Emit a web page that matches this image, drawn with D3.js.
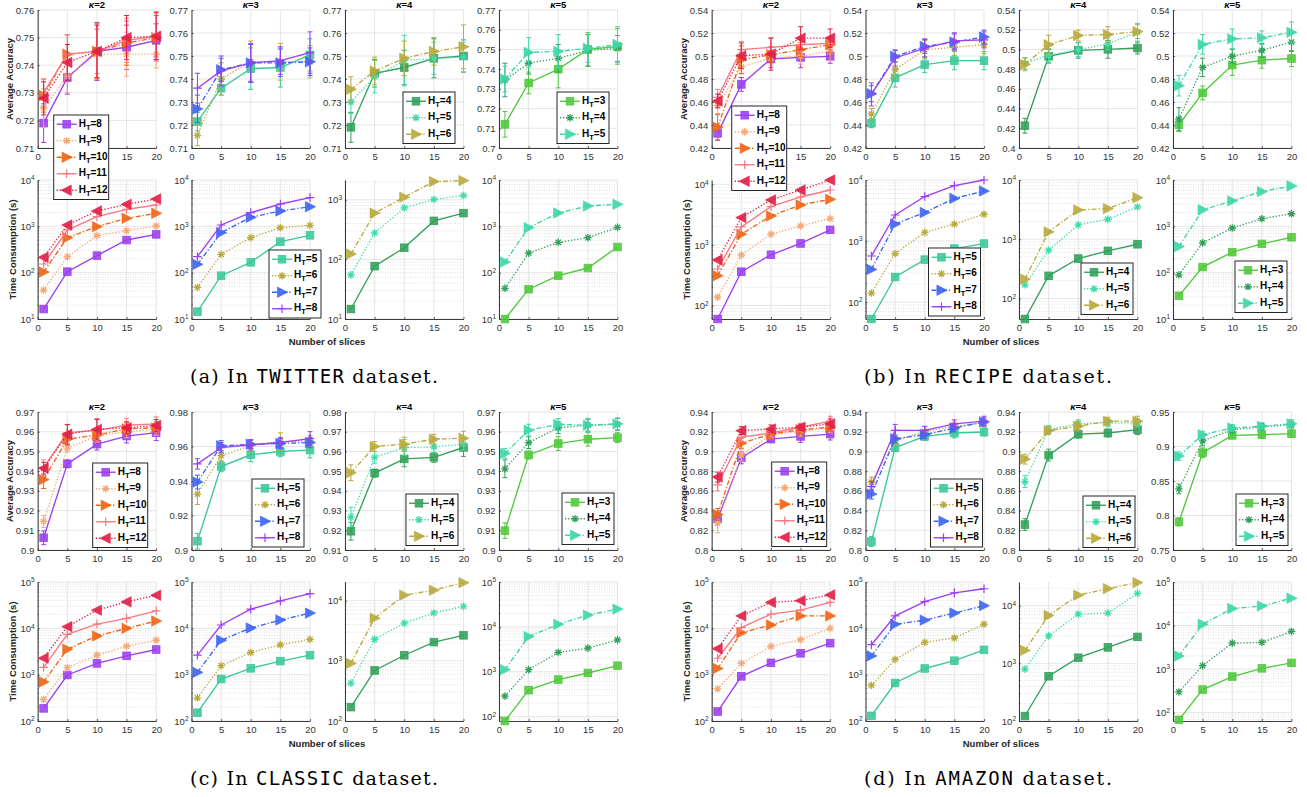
<!DOCTYPE html>
<html><head><meta charset="utf-8">
<script src="https://cdn.jsdelivr.net/npm/d3@7"></script>
<style>body{margin:0;background:#fff;} svg{display:block;}</style>
</head><body>
<svg id="chart" width="1307" height="797"></svg>
<script>
// ---------------- DATA ----------------
const xSlices = [1, 5, 10, 15, 20];
const xTicks = [0, 5, 10, 15, 20];
const kappaValues = [2, 3, 4, 5];
const htValues = [[8, 9, 10, 11, 12], [5, 6, 7, 8], [4, 5, 6], [3, 4, 5]];
const datasetNames = ["TWITTER", "RECIPE", "CLASSIC", "AMAZON"];
const panelLetters = ["a", "b", "c", "d"];

// TWITTER
const twitterAccRange = [[0.71, 0.76, 0.01], [0.71, 0.77, 0.01], [0.71, 0.77, 0.01], [0.70, 0.77, 0.01]];
const twitterAcc = [
  [[0.719,0.7355,0.745,0.7465,0.749],[0.7245,0.736,0.744,0.744,0.744],[0.729,0.744,0.745,0.748,0.750],[0.730,0.744,0.745,0.749,0.7505],[0.728,0.741,0.745,0.750,0.7505]],
  [[0.7215,0.736,0.7445,0.745,0.7505],[0.7155,0.740,0.7475,0.7475,0.7475],[0.727,0.744,0.747,0.747,0.7475],[0.736,0.7435,0.747,0.748,0.7515]],
  [[0.719,0.7425,0.745,0.749,0.750],[0.730,0.741,0.748,0.749,0.7495],[0.7355,0.7435,0.749,0.752,0.754]],
  [[0.712,0.733,0.740,0.750,0.7515],[0.7345,0.743,0.7455,0.7495,0.7505],[0.735,0.7485,0.749,0.7505,0.7525]]
];
const twitterErr = [
  [[0.007,0.006,0.0105,0.008,0.006],[0.007,0.006,0.009,0.008,0.005],[0.006,0.007,0.01,0.008,0.008],[0.005,0.007,0.008,0.008,0.009],[0.006,0.0065,0.0095,0.008,0.0085]],
  [[0.004,0.003,0.009,0.0085,0.007],[0.0045,0.007,0.009,0.008,0.007],[0.006,0.005,0.008,0.006,0.006],[0.0065,0.0065,0.0085,0.006,0.009]],
  [[0.0065,0.006,0.0075,0.0085,0.007],[0.005,0.007,0.011,0.007,0.0065],[0.0055,0.006,0.0075,0.006,0.0095]],
  [[0.0065,0.0055,0.0095,0.0085,0.009],[0.0085,0.0055,0.007,0.008,0.0065],[0.0065,0.0075,0.0085,0.007,0.009]]
];
const twitterTimeRange = [[10, 1e4], [10, 1e4], [10, 2150], [10, 1e4]];
const twitterTime = [
  [[16.4,105,233,507,671],[42,221,630,806,1016],[103,569,984,1489,1910],[154,833,1617,2328,2884],[214,1069,2143,2985,3890]],
  [[14.4,86,167,467,640],[48,249,569,935,1051],[151,730,1563,2143,2655],[221,1069,1972,3034,4159]],
  [[14.7,77,157,443,598],[55,279,731,1013,1181],[123,598,1109,2024,2100]],
  [[10,44,86,126,358],[46,263,452,569,950],[170,935,1940,2748,2985]]
];

// RECIPE
const recipeAccRange = [[0.42, 0.54, 0.02], [0.42, 0.54, 0.02], [0.40, 0.54, 0.02], [0.42, 0.54, 0.02]];
const recipeAcc = [
  [[0.4327,0.4753,0.4974,0.4988,0.4997],[0.457,0.4905,0.498,0.500,0.504],[0.438,0.4968,0.5011,0.5055,0.5098],[0.464,0.5055,0.5075,0.5098,0.511],[0.4609,0.5003,0.5017,0.5155,0.5155]],
  [[0.4416,0.481,0.4925,0.496,0.496],[0.4494,0.4882,0.5055,0.5075,0.510],[0.4672,0.4997,0.5083,0.5121,0.5165],[0.4666,0.4983,0.5069,0.5132,0.514]],
  [[0.4226,0.4931,0.4991,0.5001,0.5014],[0.4858,0.4941,0.4998,0.5057,0.5174],[0.4848,0.5048,0.5141,0.5151,0.5181]],
  [[0.4402,0.4679,0.4921,0.4964,0.4978],[0.4451,0.4901,0.4998,0.5049,0.5121],[0.4742,0.5101,0.5149,0.5158,0.5206]]
];
const recipeErr = [
  [[0.006,0.006,0.0075,0.009,0.006],[0.007,0.006,0.006,0.007,0.008],[0.011,0.012,0.007,0.006,0.007],[0.007,0.007,0.008,0.006,0.006],[0.006,0.011,0.014,0.01,0.008]],
  [[0.004,0.008,0.007,0.008,0.008],[0.005,0.007,0.008,0.007,0.008],[0.007,0.005,0.006,0.007,0.006],[0.01,0.007,0.008,0.007,0.007]],
  [[0.0075,0.007,0.008,0.009,0.006],[0.006,0.007,0.007,0.006,0.009],[0.0065,0.0095,0.0055,0.008,0.007]],
  [[0.006,0.006,0.009,0.007,0.007],[0.01,0.008,0.006,0.006,0.008],[0.009,0.0085,0.0085,0.006,0.009]]
];
const recipeTimeRange = [[60, 11800], [53, 1e4], [45, 1e4], [10, 1e4]];
const recipeTime = [
  [[60,362,689,1059,1775],[137,680,1507,2065,2728],[311,1507,3013,4571,5662],[401,1990,4295,6190,8070],[564,2830,5520,8070,11780]],
  [[53,258,497,754,910],[141,623,1387,1900,2750],[344,1900,2940,5000,6600],[570,2672,5360,8080,10000]],
  [[45,241,472,636,823],[170,653,1745,2174,3509],[212,1330,3120,3290,5030]],
  [[31.6,132,277,418,581],[90,440,920,1460,1868],[366,2275,3550,5620,7430]]
];

// CLASSIC
const classicAccRange = [[0.90, 0.97, 0.01], [0.90, 0.98, 0.02], [0.91, 0.98, 0.01], [0.90, 0.97, 0.01]];
const classicAcc = [
  [[0.9062,0.9437,0.9537,0.9578,0.9595],[0.9145,0.9517,0.9578,0.960,0.9612],[0.9357,0.9562,0.9583,0.9615,0.962],[0.9417,0.9595,0.9607,0.9633,0.964],[0.9415,0.9587,0.9612,0.962,0.9632]],
  [[0.9051,0.9484,0.9552,0.9571,0.9579],[0.9324,0.9547,0.9604,0.9629,0.9632],[0.9394,0.9604,0.9613,0.9617,0.9623],[0.9499,0.9594,0.961,0.9623,0.9646]],
  [[0.9195,0.949,0.9562,0.957,0.962],[0.9267,0.957,0.962,0.9623,0.9637],[0.9492,0.9625,0.9637,0.9662,0.9667]],
  [[0.9098,0.9482,0.954,0.9562,0.957],[0.9412,0.9545,0.962,0.9633,0.9637],[0.949,0.9608,0.9637,0.9633,0.964]]
];
const classicErr = [
  [[0.0035,0.002,0.003,0.0035,0.004],[0.003,0.002,0.003,0.003,0.003],[0.0045,0.003,0.003,0.003,0.003],[0.004,0.004,0.006,0.0035,0.0035],[0.003,0.005,0.005,0.003,0.003]],
  [[0.0045,0.003,0.004,0.003,0.0045],[0.006,0.003,0.003,0.005,0.003],[0.004,0.003,0.0025,0.003,0.003],[0.003,0.003,0.003,0.003,0.004]],
  [[0.0045,0.002,0.004,0.0025,0.0045],[0.005,0.003,0.004,0.003,0.003],[0.004,0.0025,0.0035,0.0025,0.0035]],
  [[0.004,0.002,0.0035,0.0035,0.0025],[0.0045,0.003,0.003,0.003,0.003],[0.0025,0.003,0.003,0.0035,0.003]]
];
const classicTimeRange = [[100, 1e5], [100, 1e5], [100, 20500], [80, 1e5]];
const classicTime = [
  [[187,984,1750,2553,3490],[291,1413,2637,4110,5530],[696,3540,6850,10000,14360],[1435,7430,12380,16370,23900],[2275,10860,24700,37250,51800]],
  [[151,806,1368,1963,2637],[316,1560,3010,4395,5800],[1122,5530,10170,15100,21300],[2637,11800,25950,39170,56200]],
  [[170,693,1240,2052,2660],[427,2287,4240,6270,8070],[910,5130,12400,14970,20000]],
  [[80,390,670,940,1365],[286,1114,2690,3360,5130],[1114,6080,11400,18300,24900]]
];

// AMAZON
const amazonAccRange = [[0.80, 0.94, 0.02], [0.80, 0.94, 0.02], [0.80, 0.94, 0.02], [0.75, 0.95, 0.05]];
const amazonAcc = [
  [[0.8316,0.8935,0.9125,0.9152,0.9176],[0.8275,0.8963,0.917,0.9204,0.9238],[0.8361,0.9083,0.9176,0.9221,0.9245],[0.866,0.9145,0.9187,0.9245,0.9307],[0.874,0.9211,0.9228,0.9245,0.928]],
  [[0.8086,0.9039,0.9152,0.9187,0.9197],[0.8688,0.9108,0.9204,0.9256,0.929],[0.8567,0.9128,0.917,0.9238,0.93],[0.8646,0.9214,0.9214,0.928,0.9307]],
  [[0.8258,0.8963,0.9176,0.9187,0.9221],[0.8694,0.9221,0.928,0.929,0.929],[0.8922,0.9211,0.9256,0.9307,0.9307]],
  [[0.7908,0.891,0.9161,0.9171,0.9186],[0.8385,0.9082,0.9244,0.9284,0.9318],[0.8861,0.9171,0.9269,0.9294,0.9328]]
];
const amazonErr = [
  [[0.006,0.006,0.003,0.006,0.006],[0.01,0.006,0.004,0.005,0.005],[0.006,0.005,0.005,0.004,0.004],[0.006,0.004,0.004,0.004,0.005],[0.005,0.004,0.004,0.003,0.005]],
  [[0.005,0.004,0.004,0.005,0.004],[0.005,0.004,0.005,0.004,0.004],[0.005,0.004,0.004,0.004,0.004],[0.005,0.006,0.004,0.004,0.005]],
  [[0.006,0.006,0.004,0.004,0.005],[0.006,0.004,0.004,0.004,0.004],[0.005,0.004,0.005,0.004,0.005]],
  [[0.006,0.007,0.004,0.004,0.005],[0.007,0.007,0.005,0.005,0.005],[0.006,0.005,0.005,0.005,0.006]]
];
const amazonTimeRange = [[100, 1e5], [100, 1e5], [100, 25700], [64, 1e5]];
const amazonTime = [
  [[160,918,1800,2890,4790],[495,1750,4070,5700,10000],[1360,8030,11830,18550,18550],[2260,10350,20200,24700,36400],[3620,18550,36400,39600,52700]],
  [[129,661,1360,2000,3430],[586,2130,5000,6190,12250],[2540,12250,15000,21400,30900],[4430,18550,37600,58300,71500]],
  [[122,597,1250,1890,2870],[795,2990,7130,7430,16300],[1675,6750,15200,19700,25100]],
  [[68,338,672,1037,1385],[298,1198,3944,4090,7300],[1995,10730,24650,28000,42400]]
];

// ---------------- STYLES / LAYOUT ----------------
const seriesStyles = [
  [{c:"#9b3ff0",d:"solid",m:"square"},{c:"#f5a878",d:"dot",m:"asterisk"},{c:"#f06414",d:"dashdot",m:"triR"},{c:"#fa7882",d:"solid",m:"plus"},{c:"#e01e46",d:"dot",m:"triL"}],
  [{c:"#3cc896",d:"solid",m:"square"},{c:"#b9aa3c",d:"dot",m:"asterisk"},{c:"#3c64f5",d:"dashdot",m:"triR"},{c:"#9b3ff0",d:"solid",m:"plus"}],
  [{c:"#32a05a",d:"solid",m:"square"},{c:"#40dcaa",d:"dot",m:"asterisk"},{c:"#b9aa3c",d:"dashdot",m:"triR"}],
  [{c:"#50c83c",d:"solid",m:"square"},{c:"#32a05a",d:"dot",m:"asterisk"},{c:"#3cd6aa",d:"dashdot",m:"triR"}]
];
const dashes = {solid: null, dot: "1.3,1.8", dashdot: "5,2,1.3,2"};
const quadOrigins = [[0, 0], [674, 0], [0, 402], [674, 402]];
const colLeft = [37.7, 191.5, 345, 499];
const plotW = 118.5;
const accTop = 10, accH = 138;
const timeTop = 180, timeH = 139;
// legend placement: [row(0 acc / 1 time), dx from axes left, dy from axes top]
const legendPos = [
  [[0,16,105],[1,77.5,70],[0,58,82],[0,58,82]],
  [[0,20,96],[1,63,68],[1,62,83],[1,62,81]],
  [[0,55,51],[0,60.5,67],[0,61,82],[0,63,81]],
  [[0,60,50],[0,65,67],[0,64,84],[0,63,82]]
];

const accData = [twitterAcc, recipeAcc, classicAcc, amazonAcc];
const errData = [twitterErr, recipeErr, classicErr, amazonErr];
const accRanges = [twitterAccRange, recipeAccRange, classicAccRange, amazonAccRange];
const timeData = [twitterTime, recipeTime, classicTime, amazonTime];
const timeRanges = [twitterTimeRange, recipeTimeRange, classicTimeRange, amazonTimeRange];

const FONT = "'Liberation Sans', Arial, Helvetica, sans-serif";
const AXIS_COLOR = "#262626";
const GRID = "#e2e2e2";
const MINOR_GRID = "#d2d2d2";
const LW = 1.35;

const svg = d3.select("#chart").attr("font-family", FONT);

function marker(g, type, color, x, y) {
  if (type === "square") {
    g.append("rect").attr("x", x - 3.8).attr("y", y - 3.8).attr("width", 7.6).attr("height", 7.6)
      .attr("fill", color).attr("fill-opacity", 0.88).attr("stroke", color).attr("stroke-width", 0.8);
  } else if (type === "triR" || type === "triL") {
    const s = type === "triR" ? 1 : -1;
    const p = d3.path();
    p.moveTo(x - s * 4.6, y - 5.2); p.lineTo(x + s * 5.6, y); p.lineTo(x - s * 4.6, y + 5.2); p.closePath();
    g.append("path").attr("d", p.toString()).attr("fill", color).attr("fill-opacity", 0.9)
      .attr("stroke", color).attr("stroke-width", 0.6);
  } else if (type === "plus") {
    const p = d3.path();
    p.moveTo(x - 4.3, y); p.lineTo(x + 4.3, y); p.moveTo(x, y - 4.3); p.lineTo(x, y + 4.3);
    g.append("path").attr("d", p.toString()).attr("stroke", color).attr("stroke-width", 1.2).attr("fill", "none");
  } else if (type === "asterisk") {
    const r = 3.8, q = r * 0.707;
    const p = d3.path();
    p.moveTo(x - r, y); p.lineTo(x + r, y); p.moveTo(x, y - r); p.lineTo(x, y + r);
    p.moveTo(x - q, y - q); p.lineTo(x + q, y + q); p.moveTo(x - q, y + q); p.lineTo(x + q, y - q);
    g.append("path").attr("d", p.toString()).attr("stroke", color).attr("stroke-width", 1.3).attr("fill", "none");
  }
}

function styleAxis(ax) {
  ax.select(".domain").attr("stroke", AXIS_COLOR).attr("stroke-width", 0.9);
  ax.selectAll(".tick line").attr("stroke", AXIS_COLOR).attr("stroke-width", 0.7);
  ax.selectAll(".tick text").attr("fill", "#333").attr("font-size", "9.5px").attr("font-family", FONT);
}

function drawXAxis(g, xs, bottom) {
  const ax = g.append("g").attr("transform", `translate(0,${bottom})`)
    .call(d3.axisBottom(xs).tickValues(xTicks).tickSize(-2).tickSizeOuter(0).tickPadding(5.5).tickFormat(d3.format("d")));
  styleAxis(ax);
}

function drawSeries(g, xs, ys, series, errs, styles) {
  series.forEach((vals, si) => {
    const st = styles[si];
    const pts = vals.map((v, i) => ({x: xSlices[i], y: v, e: errs ? errs[si][i] : 0}));
    const line = d3.line().x(d => xs(d.x)).y(d => ys(d.y));
    g.append("path").datum(pts).attr("d", line).attr("fill", "none").attr("stroke", st.c)
      .attr("stroke-width", LW).attr("stroke-dasharray", dashes[st.d]);
    if (errs) {
      pts.forEach(d => {
        const x = xs(d.x), y1 = ys(d.y - d.e), y2 = ys(d.y + d.e);
        const p = d3.path();
        p.moveTo(x, y1); p.lineTo(x, y2);
        p.moveTo(x - 2.5, y1); p.lineTo(x + 2.5, y1);
        p.moveTo(x - 2.5, y2); p.lineTo(x + 2.5, y2);
        g.append("path").attr("d", p.toString()).attr("stroke", st.c).attr("stroke-width", 1).attr("fill", "none");
      });
    }
    pts.forEach(d => marker(g, st.m, st.c, xs(d.x), ys(d.y)));
  });
}

function drawAcc(g, left, top, range, series, errs, styles) {
  const [lo, hi, step] = range;
  const xs = d3.scaleLinear().domain([0, 20]).range([left, left + plotW]);
  const ys = d3.scaleLinear().domain([lo, hi]).range([top + accH, top]);
  const n = Math.round((hi - lo) / step);
  const yt = d3.range(n + 1).map(i => +(lo + i * step).toFixed(3));
  const grid = g.append("g");
  grid.selectAll(null).data(xTicks).join("line")
    .attr("x1", d => xs(d)).attr("x2", d => xs(d)).attr("y1", top).attr("y2", top + accH)
    .attr("stroke", GRID).attr("stroke-width", 0.9);
  grid.selectAll(null).data(yt).join("line")
    .attr("x1", left).attr("x2", left + plotW).attr("y1", d => ys(d)).attr("y2", d => ys(d))
    .attr("stroke", GRID).attr("stroke-width", 0.9);
  const ay = g.append("g").attr("transform", `translate(${left},0)`)
    .call(d3.axisLeft(ys).tickValues(yt).tickSize(-2).tickSizeOuter(0).tickPadding(3.5).tickFormat(d => String(+d.toFixed(3))));
  styleAxis(ay);
  drawXAxis(g, xs, top + accH);
  drawSeries(g, xs, ys, series, errs, styles);
}

function drawTime(g, left, top, range, series, styles) {
  const [lo, hi] = range;
  const xs = d3.scaleLinear().domain([0, 20]).range([left, left + plotW]);
  const ys = d3.scaleLog().domain([lo, hi]).range([top + timeH, top]);
  const d0 = Math.floor(Math.log10(lo)), d1 = Math.ceil(Math.log10(hi));
  const majors = d3.range(d0, d1 + 1).map(e => Math.pow(10, e)).filter(v => v >= lo * 0.999 && v <= hi * 1.001);
  const minors = [];
  d3.range(d0, d1 + 1).forEach(e => { for (let m = 2; m <= 9; m++) { const v = m * Math.pow(10, e); if (v > lo && v < hi) minors.push(v); } });
  const grid = g.append("g");
  grid.selectAll(null).data(minors).join("line")
    .attr("x1", left).attr("x2", left + plotW).attr("y1", d => ys(d)).attr("y2", d => ys(d))
    .attr("stroke", MINOR_GRID).attr("stroke-width", 0.7).attr("stroke-dasharray", "1,1.5");
  grid.selectAll(null).data(xTicks).join("line")
    .attr("x1", d => xs(d)).attr("x2", d => xs(d)).attr("y1", top).attr("y2", top + timeH)
    .attr("stroke", GRID).attr("stroke-width", 0.9);
  grid.selectAll(null).data(majors).join("line")
    .attr("x1", left).attr("x2", left + plotW).attr("y1", d => ys(d)).attr("y2", d => ys(d))
    .attr("stroke", GRID).attr("stroke-width", 0.9);
  g.append("g").selectAll(null).data(minors).join("line")
    .attr("x1", left).attr("x2", left + 1.3).attr("y1", d => ys(d)).attr("y2", d => ys(d))
    .attr("stroke", AXIS_COLOR).attr("stroke-width", 0.6);
  const ay = g.append("g").attr("transform", `translate(${left},0)`)
    .call(d3.axisLeft(ys).tickValues(majors).tickSize(-2).tickSizeOuter(0).tickPadding(3).tickFormat(() => ""));
  styleAxis(ay);
  ay.selectAll(".tick text").each(function(d) {
    const t = d3.select(this);
    t.text("10");
    t.append("tspan").attr("dy", "-0.5em").attr("font-size", "6.5px").text(Math.round(Math.log10(d)));
  });
  drawXAxis(g, xs, top + timeH);
  drawSeries(g, xs, ys, series, null, styles);
}

function drawLegend(g, x, y, hts, styles) {
  const rowH = 16.5;
  const w = hts.length === 5 ? 55 : 52;
  const h = hts.length * rowH + 2;
  const lg = g.append("g");
  lg.append("rect").attr("x", x).attr("y", y).attr("width", w).attr("height", h)
    .attr("fill", "#fff").attr("stroke", AXIS_COLOR).attr("stroke-width", 1);
  hts.forEach((ht, i) => {
    const st = styles[i];
    const cy = y + 1 + rowH * (i + 0.5);
    lg.append("line").attr("x1", x + 3).attr("x2", x + 23).attr("y1", cy).attr("y2", cy)
      .attr("stroke", st.c).attr("stroke-width", LW).attr("stroke-dasharray", dashes[st.d]);
    marker(lg, st.m, st.c, x + 13, cy);
    const t = lg.append("text").attr("x", x + 25).attr("y", cy + 2.5)
      .attr("font-size", "10px").attr("font-weight", "bold").attr("fill", "#000");
    t.append("tspan").text("H");
    t.append("tspan").attr("dy", 3).attr("font-size", "7.5px").text("T");
    t.append("tspan").attr("dy", -3).text("=" + ht);
  });
}

datasetNames.forEach((name, di) => {
  const [ox, oy] = quadOrigins[di];
  const q = svg.append("g").attr("transform", `translate(${ox},${oy})`);
  kappaValues.forEach((k, ki) => {
    const left = colLeft[ki];
    drawAcc(q, left, accTop, accRanges[di][ki], accData[di][ki], errData[di][ki], seriesStyles[ki]);
    drawTime(q, left, timeTop, timeRanges[di][ki], timeData[di][ki], seriesStyles[ki]);
    const title = q.append("text").attr("x", left + plotW / 2).attr("y", accTop - 2)
      .attr("text-anchor", "middle").attr("font-size", "9.5px").attr("font-weight", "bold").attr("fill", "#000");
    title.append("tspan").attr("font-style", "italic").text("κ");
    title.append("tspan").text("=" + k);
  });
  q.append("text").attr("transform", `translate(10,${accTop + accH / 2}) rotate(-90)`)
    .attr("text-anchor", "middle").attr("dy", "0.35em").attr("font-size", "9.5px").attr("font-weight", "bold")
    .attr("fill", "#262626").text("Average Accuracy");
  q.append("text").attr("transform", `translate(12.5,${timeTop + timeH / 2}) rotate(-90)`)
    .attr("text-anchor", "middle").attr("dy", "0.35em").attr("font-size", "9.5px").attr("font-weight", "bold")
    .attr("fill", "#262626").text("Time Consumption (s)");
  q.append("text").attr("x", 327).attr("y", 345).attr("text-anchor", "middle")
    .attr("font-size", "9.5px").attr("font-weight", "bold").attr("fill", "#262626").text("Number of slices");
  const cap = q.append("text").attr("x", 314).attr("y", 383).attr("text-anchor", "middle")
    .attr("font-size", "19px").attr("font-family", "'DejaVu Serif', serif").attr("fill", "#000")
    .attr("textLength", 248).attr("lengthAdjust", "spacing");
  cap.append("tspan").text(`(${panelLetters[di]}) In `);
  cap.append("tspan").attr("font-family", "'DejaVu Sans Mono', monospace").text(name);
  cap.append("tspan").text(" dataset.");
  kappaValues.forEach((k, ki) => {
    const [row, dx, dy] = legendPos[di][ki];
    const top = row === 0 ? accTop : timeTop;
    drawLegend(q, colLeft[ki] + dx, top + dy, htValues[ki], seriesStyles[ki]);
  });
});
</script>
</body></html>
